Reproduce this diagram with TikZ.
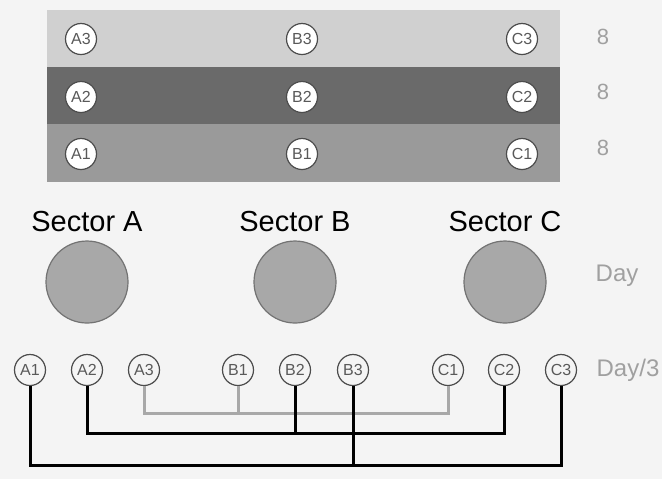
\documentclass[tikz,border=0pt]{standalone}
\usepackage{fontspec}
\setmainfont{Liberation Sans}
\usetikzlibrary{positioning}
\definecolor{fondo}{HTML}{F4F4F4}
\definecolor{franjaclara}{HTML}{D0D0D0}
\definecolor{franjaoscura}{HTML}{6A6A6A}
\definecolor{franjamedia}{HTML}{9A9A9A}
\definecolor{textogris}{HTML}{A0A0A0}
\definecolor{lineagris}{HTML}{A8A8A8}
\begin{document}
\begin{tikzpicture}[x=0.5pt, y=-0.5pt,
    parcela/.style={circle, draw=black!70, fill=white, line width=0.6pt, minimum size=15.5pt, inner sep=0pt, font=\fontsize{8}{8}\selectfont, text=black!65},
    muestra/.style={parcela, fill=fondo},
    sector/.style={circle, draw=black!55, fill=black!34, line width=0.6pt, minimum size=41pt, inner sep=0pt},
    rotulo/.style={font=\fontsize{14.5}{15}\selectfont},
    nota/.style={font=\fontsize{12}{12}\selectfont, text=textogris},
    union/.style={line width=1.5pt, black},
    uniongris/.style={line width=1.5pt, lineagris},
]

\fill [fondo] (0,0) rectangle (662,479);
\useasboundingbox (0,0) rectangle (662,479);

% franjas
\fill [franjaclara] (47,10) rectangle (560,67);
\fill [franjaoscura] (47,67) rectangle (560,124);
\fill [franjamedia] (47,124) rectangle (560,182);

\node (a3f) [parcela] at (81,39) {A3};
\node (b3f) [parcela] at (302,39) {B3};
\node (c3f) [parcela] at (522,39) {C3};
\node (a2f) [parcela] at (81,97) {A2};
\node (b2f) [parcela] at (302,97) {B2};
\node (c2f) [parcela] at (522,97) {C2};
\node (a1f) [parcela] at (81,154) {A1};
\node (b1f) [parcela] at (302,154) {B1};
\node (c1f) [parcela] at (522,154) {C1};

\node (ocho3) [nota, font=\fontsize{11}{11}\selectfont] at (603,37) {8};
\node (ocho2) [nota, font=\fontsize{11}{11}\selectfont] at (603,92) {8};
\node (ocho1) [nota, font=\fontsize{11}{11}\selectfont] at (603,148) {8};

% sectores
\node (secA) [sector] at (87,282) {};
\node (secB) [sector] at (295,282) {};
\node (secC) [sector] at (505,282) {};
\node (tituloA) [rotulo, above=1pt of secA] {Sector A};
\node (tituloB) [rotulo, above=1pt of secB] {Sector B};
\node (tituloC) [rotulo, above=1pt of secC] {Sector C};
\node (dia) [nota] at (617,276) {Day};

% muestras
\node (a1) [muestra] at (30,370) {A1};
\node (a2) [muestra] at (87,370) {A2};
\node (a3) [muestra] at (144,370) {A3};
\node (b1) [muestra] at (238,370) {B1};
\node (b2) [muestra] at (295,370) {B2};
\node (b3) [muestra] at (353,370) {B3};
\node (c1) [muestra] at (448,370) {C1};
\node (c2) [muestra] at (504,370) {C2};
\node (c3) [muestra] at (561,370) {C3};
\node (tercio) [nota] at (628,370) {Day/3};

\draw [uniongris] (a3.south) |- (c1.south |- 0,413) -- (c1.south);
\draw [uniongris] (b1.south) -- (b1.south |- 0,413);
\draw [union] (a2.south) |- (c2.south |- 0,433) -- (c2.south);
\draw [union] (b2.south) -- (b2.south |- 0,433);
\draw [union] (a1.south) |- (c3.south |- 0,465) -- (c3.south);
\draw [union] (b3.south) -- (b3.south |- 0,465);

\end{tikzpicture}
\end{document}
